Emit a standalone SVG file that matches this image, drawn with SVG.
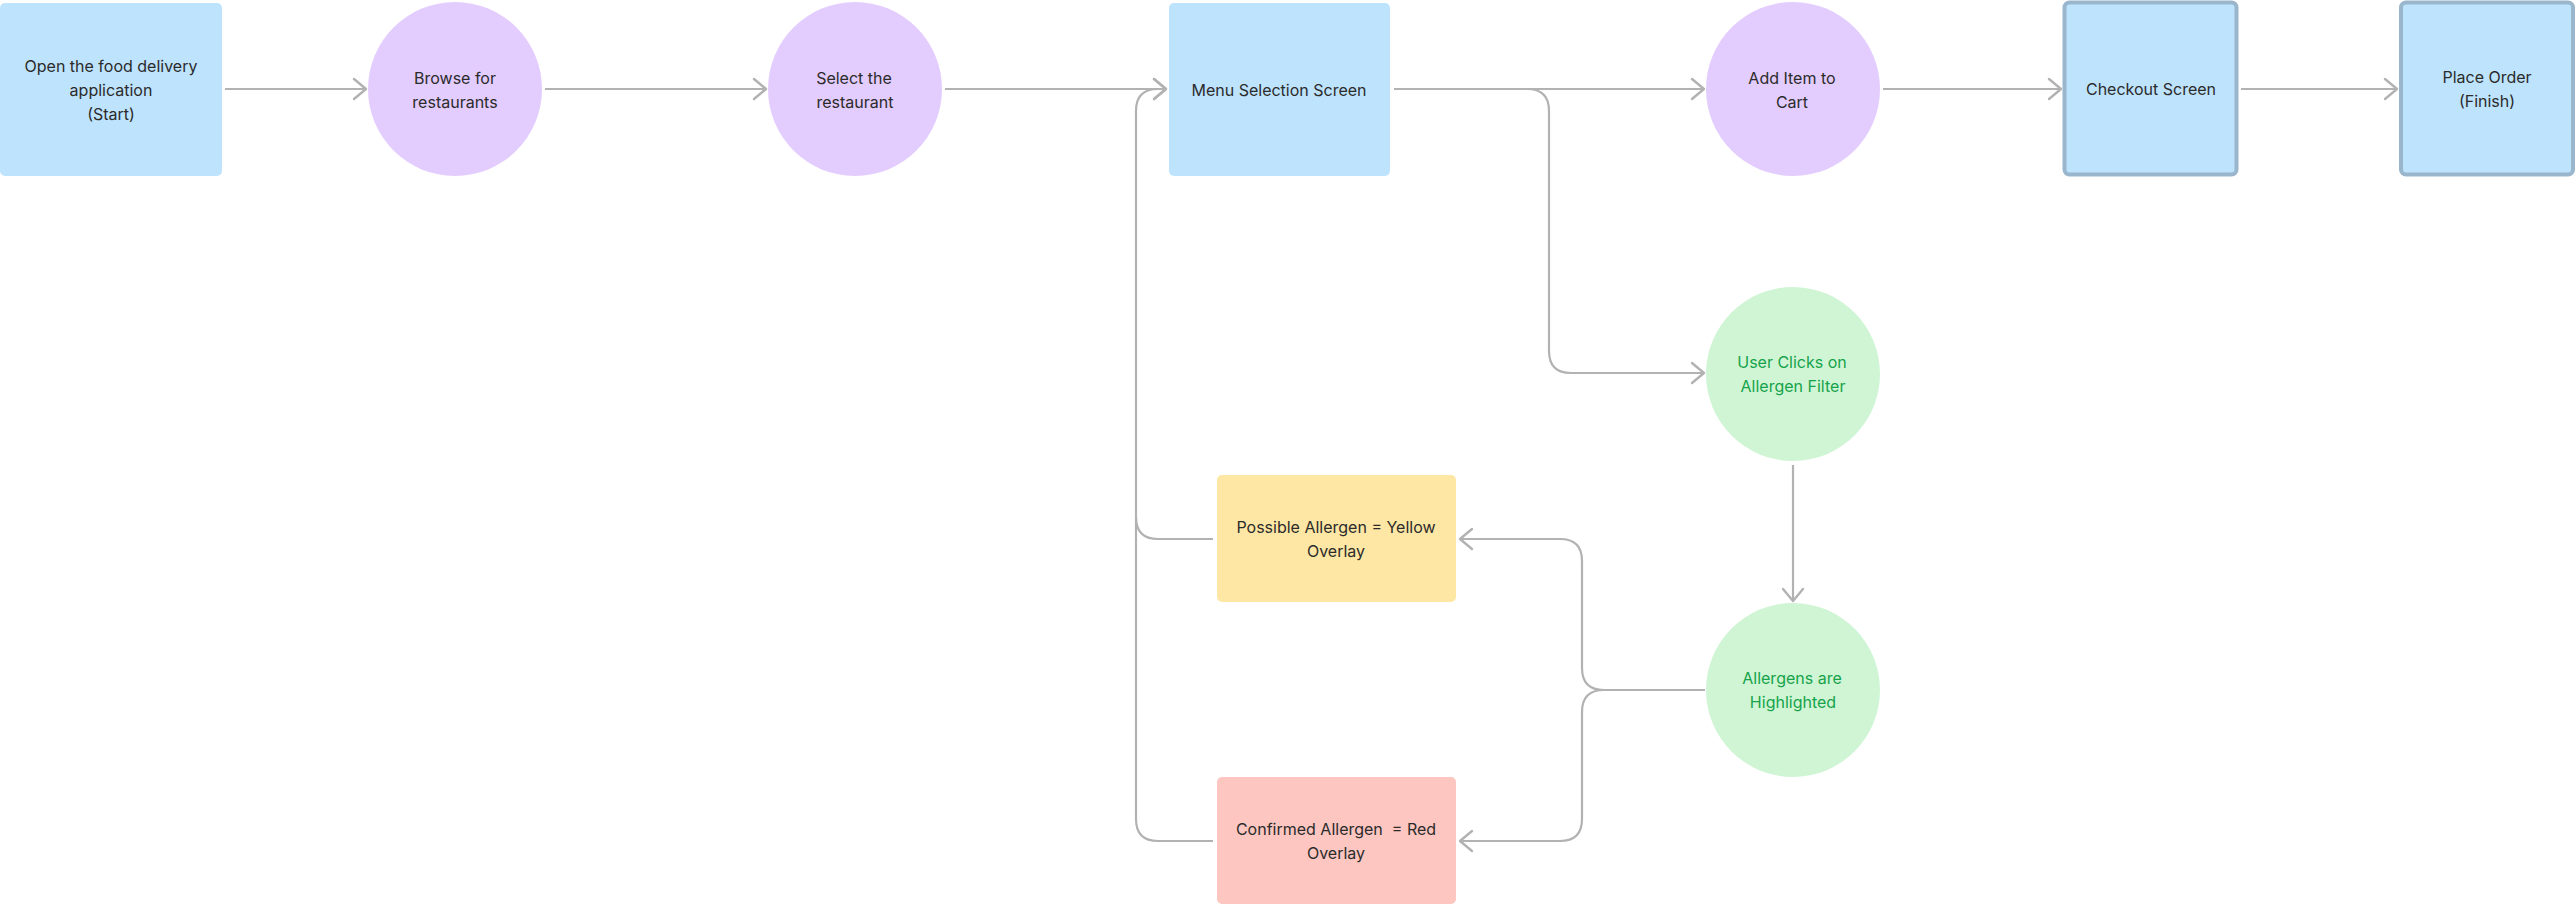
<svg xmlns="http://www.w3.org/2000/svg" width="2576" height="905" viewBox="0 0 2576 905">
<style>
  .t { font-family: Inter, "Noto Sans", "Liberation Sans", sans-serif; font-size: 16px; fill: #2b2b2b; text-anchor: middle; white-space: pre; }
  .g { fill: #16a34a; }
  .blue { fill: #bee3fd; }
  .bord { fill: #bee3fd; stroke: #99b6cd; stroke-width: 4; }
  .purple { fill: #e3ccfe; }
  .green { fill: #cff5d5; }
  .yellow { fill: #fee7a4; }
  .red { fill: #fdc6c0; }
  .e { fill: none; stroke: #b2b2b2; stroke-width: 2.2; }
  .ea { fill: none; stroke: #b2b2b2; stroke-width: 2.2; marker-end: url(#arr); }
</style>
<defs>
  <marker id="arr" markerUnits="userSpaceOnUse" viewBox="0 0 16 24" markerWidth="16" markerHeight="24" refX="14" refY="12" orient="auto">
    <path d="M2,2 L14,12 L2,22" fill="none" stroke="#b2b2b2" stroke-width="2.4" stroke-linecap="round" stroke-linejoin="round"/>
  </marker>
</defs>
<rect width="2576" height="905" fill="#ffffff"/>

<g id="connectors">
  <path class="ea" d="M225,89 H366"/>
  <path class="ea" d="M545,89 H766"/>
  <path class="ea" d="M945,89 H1166"/>
  <path class="ea" d="M1394,89 H1704"/>
  <path class="ea" d="M1883,89 H2061"/>
  <path class="ea" d="M2241,89 H2397"/>
  <path class="ea" d="M1527,89 Q1549,89 1549,111 V351 Q1549,373 1571,373 H1704"/>
  <path class="ea" d="M1793,465 V601"/>
  <path class="ea" d="M1705,690 H1604 Q1582,690 1582,668 V561 Q1582,539 1560,539 H1460"/>
  <path class="ea" d="M1705,690 H1604 Q1582,690 1582,712 V819 Q1582,841 1560,841 H1460"/>
  <path class="ea" d="M1213,841 H1158 Q1136,841 1136,819 V111 Q1136,89 1158,89 H1166"/>
  <path class="e" d="M1213,539 H1158 Q1136,539 1136,517"/>
</g>

<g id="n-start">
  <rect class="blue" x="0" y="3" width="222" height="173" rx="5"/>
  <text class="t" x="111" y="72">Open the food delivery</text>
  <text class="t" x="111" y="96">application</text>
  <text class="t" x="111" y="120">(Start)</text>
</g>
<g id="n-browse">
  <circle class="purple" cx="455" cy="89" r="87"/>
  <text class="t" x="455" y="84">Browse for</text>
  <text class="t" x="455" y="108">restaurants</text>
</g>
<g id="n-select">
  <circle class="purple" cx="855" cy="89" r="87"/>
  <text class="t" x="854" y="84">Select the</text>
  <text class="t" x="855" y="108">restaurant</text>
</g>
<g id="n-menu">
  <rect class="blue" x="1169" y="3" width="221" height="173" rx="5"/>
  <text class="t" x="1279" y="95.5">Menu Selection Screen</text>
</g>
<g id="n-add">
  <circle class="purple" cx="1793" cy="89" r="87"/>
  <text class="t" x="1792" y="84">Add Item to</text>
  <text class="t" x="1792" y="108">Cart</text>
</g>
<g id="n-checkout">
  <rect class="bord" x="2064.5" y="2.5" width="172" height="172" rx="5"/>
  <text class="t" x="2151" y="95">Checkout Screen</text>
</g>
<g id="n-place">
  <rect class="bord" x="2401" y="2.5" width="172" height="172" rx="5"/>
  <text class="t" x="2487" y="83">Place Order</text>
  <text class="t" x="2487" y="107">(Finish)</text>
</g>
<g id="n-userclicks">
  <circle class="green" cx="1793" cy="374" r="87"/>
  <text class="t g" x="1792" y="368">User Clicks on</text>
  <text class="t g" x="1793" y="392">Allergen Filter</text>
</g>
<g id="n-highlighted">
  <circle class="green" cx="1793" cy="690" r="87"/>
  <text class="t g" x="1792" y="684">Allergens are</text>
  <text class="t g" x="1793" y="708">Highlighted</text>
</g>
<g id="n-yellow">
  <rect class="yellow" x="1217" y="475" width="239" height="127" rx="5"/>
  <text class="t" x="1336" y="533">Possible Allergen = Yellow</text>
  <text class="t" x="1336" y="557">Overlay</text>
</g>
<g id="n-red">
  <rect class="red" x="1217" y="777" width="239" height="127" rx="5"/>
  <text class="t" x="1336" y="835">Confirmed Allergen  = Red</text>
  <text class="t" x="1336" y="859">Overlay</text>
</g>
</svg>
